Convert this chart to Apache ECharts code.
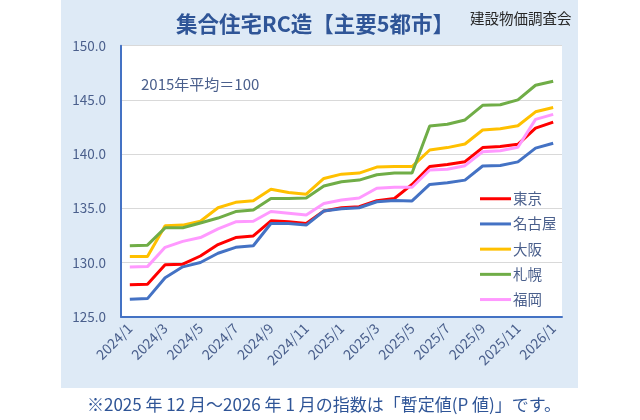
<!DOCTYPE html>
<html><head><meta charset="utf-8">
<script src="https://cdn.jsdelivr.net/npm/echarts@6/dist/echarts.min.js"></script>
<style>html,body{margin:0;padding:0;background:#fff}#c{width:640px;height:420px}</style>
</head><body><div id="c"></div>
<script>
const categories = ['2024/1','2024/2','2024/3','2024/4','2024/5','2024/6','2024/7','2024/8','2024/9','2024/10','2024/11','2024/12',
  '2025/1','2025/2','2025/3','2025/4','2025/5','2025/6','2025/7','2025/8','2025/9','2025/10','2025/11','2025/12','2026/1'];
const tokyo   = [127.95,128.0,129.8,129.85,130.6,131.65,132.3,132.45,133.85,133.75,133.6,134.75,135.05,135.15,135.7,135.9,137.2,138.85,139.05,139.3,140.6,140.7,140.9,142.4,142.95];
const nagoya  = [126.6,126.67,128.6,129.6,130.0,130.85,131.4,131.55,133.6,133.6,133.45,134.75,134.95,135.05,135.6,135.72,135.68,137.2,137.35,137.6,138.9,138.95,139.28,140.55,141.0];
const osaka   = [130.55,130.55,133.4,133.45,133.8,135.05,135.55,135.7,136.75,136.45,136.3,137.75,138.15,138.25,138.8,138.85,138.85,140.38,140.6,140.93,142.22,142.34,142.62,143.9,144.3];
const sapporo = [131.55,131.6,133.2,133.2,133.65,134.1,134.7,134.85,135.9,135.9,135.95,137.05,137.45,137.6,138.1,138.25,138.25,142.6,142.75,143.15,144.5,144.55,145.0,146.35,146.72];
const fukuoka = [129.58,129.62,131.4,131.95,132.3,133.1,133.75,133.8,134.7,134.55,134.38,135.45,135.77,135.95,136.85,136.94,136.94,138.53,138.6,138.93,140.22,140.31,140.63,143.2,143.67];
const seriesNames = ['東京','名古屋','大阪','札幌','福岡'];
const colors = ['#FF0000','#4472C4','#FFC000','#70AD47','#FF99FF'];
const seriesData = [tokyo, nagoya, osaka, sapporo, fukuoka];

const FONT = '"Noto Sans CJK JP","Noto Sans",sans-serif';
const LABEL = '#4A5F8C';
const chart = echarts.init(document.getElementById('c'), null, {renderer:'canvas'});
chart.setOption({
  animation:false,
  backgroundColor:'#ffffff',
  graphic:[
    {type:'rect', z:-10, shape:{x:61,y:0,width:517,height:388}, style:{fill:'#DEEAF6'}},
    {type:'text', style:{text:'集合住宅RC造【主要5都市】', x:315, y:24, align:'center', verticalAlign:'middle', font:'bold 21.5px '+FONT, fill:'#2F5597'}},
    {type:'text', style:{text:'建設物価調査会', x:470, y:18, align:'left', verticalAlign:'middle', font:'14.5px '+FONT, fill:'#262626'}},
    {type:'text', style:{text:'2015年平均＝100', x:141, y:84, align:'left', verticalAlign:'middle', font:'15px '+FONT, fill:'#4A5F8C'}},
    {type:'text', style:{text:'※2025 年 12 月～2026 年 1 月の指数は「暫定値(P 値)」です。', x:324, y:405, align:'center', verticalAlign:'middle', font:'17px '+FONT, fill:'#2F5597'}}
  ],
  grid:{left:121, right:78, top:45.7, bottom:103.3, show:true, backgroundColor:'#ffffff', borderWidth:0},
  legend:{
    orient:'vertical', left:475, top:186.5, itemWidth:31, itemHeight:3, itemGap:10.7, icon:'rect',
    textStyle:{fontFamily:FONT, fontSize:14.5, color:LABEL, padding:[0,0,0,-3]},
    data:seriesNames
  },
  xAxis:{
    type:'category', data:categories, boundaryGap:true,
    axisLine:{show:true, lineStyle:{color:'#4472C4', width:2}},
    axisTick:{show:false},
    axisLabel:{interval:1, rotate:45, margin:9, fontFamily:FONT, fontSize:14, color:LABEL}
  },
  yAxis:{
    type:'value', min:125, max:150, interval:5,
    axisLine:{show:true, lineStyle:{color:'#4472C4', width:2}},
    axisTick:{show:false},
    splitLine:{lineStyle:{color:'#D9D9D9', width:1}},
    axisLabel:{margin:15, fontFamily:FONT, fontSize:13.5, color:LABEL, formatter:v=>v.toFixed(1)}
  },
  series: seriesNames.map((n,i)=>({
    name:n, type:'line', data:seriesData[i], symbol:'none', smooth:false,
    lineStyle:{color:colors[i], width:3}, itemStyle:{color:colors[i]}
  }))
});
</script></body></html>
